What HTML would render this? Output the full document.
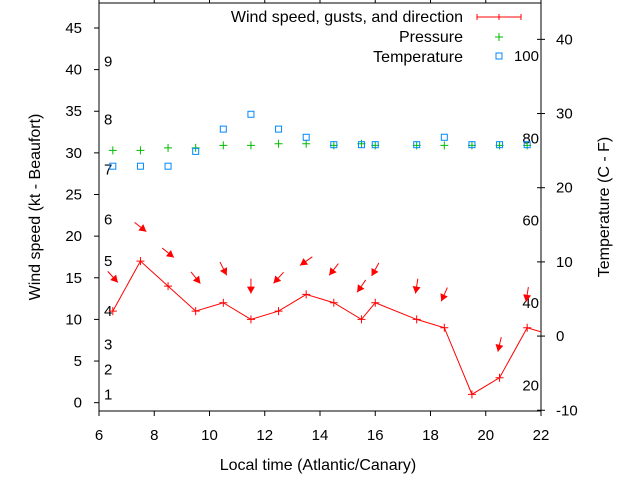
<!DOCTYPE html>
<html><head><meta charset="utf-8"><style>
html,body{margin:0;padding:0;background:#fff;}
svg{display:block;font-family:"Liberation Sans",sans-serif;}
</style></head><body>
<svg id="c" width="640" height="480" viewBox="0 0 640 480"></svg>
<script>
const hours=[6.5,7.5,8.5,9.5,10.5,11.5,12.5,13.5,14.5,15.5,16,17.5,18.5,19.5,20.5,21.5,22.5];
const windSpeed=[11,17,14,11,12,10,11,13,12,10,12,10,9,1,3,9,8];
const gustHours=[6.5,7.5,8.5,9.5,10.5,11.5,12.5,13.5,14.5,15.5,16,17.5,18.5,20.5,21.5];
const gustSpeed=[15.1,21.1,18,15,16.1,14,15,17,16,14,16,14,13,7,13];
const windDir=[318,308,309,321,333,0,42,55,38,35,29,9,24,13,9];
const pressHours=[6.5,7.5,8.5,9.5,10.5,11.5,12.5,13.5,14.5,15.5,16,17.5,18.5,19.5,20.5,21.5];
const pressure=[30.3,30.3,30.6,30.6,30.9,30.9,31.1,31.1,30.9,31.1,30.9,30.9,30.9,30.9,30.9,30.9];
const tempHours=[6.5,7.5,8.5,9.5,10.5,11.5,12.5,13.5,14.5,15.5,16,17.5,18.5,19.5,20.5,21.5];
const tempC=[22.9,22.9,22.9,24.9,27.9,29.9,27.9,26.8,25.8,25.8,25.8,25.8,26.8,25.8,25.8,25.8];
const xTicks=[6,8,10,12,14,16,18,20,22];
const yTicks=[0,5,10,15,20,25,30,35,40,45];
const y2Ticks=[-10,0,10,20,30,40];
const fTicks=[20,40,60,80,100];
const beaufort=[1,2,3,4,5,6,7,8,9];
const beaufortKt=[1,4,7,11,17,22,28,34,41];

const L=99,R=541,T=3,B=411;
const X=v=>L+(v-6)/(22-6)*(R-L);
const Y=v=>B-(v+1)/(49)*(B-T);
const Y2=v=>B-(v+10.1)/(55)*(B-T);
const svg=document.getElementById('c');
const NS='http://www.w3.org/2000/svg';
function mk(tag,attrs,parent){const e=document.createElementNS(NS,tag);for(const k in attrs)e.setAttribute(k,attrs[k]);(parent||svg).appendChild(e);return e;}
function txt(s,x,y,anchor,parent,fs){const t=mk('text',{x:x,y:y,'font-size':fs||15,fill:'#000','text-anchor':anchor||'middle'},parent);t.textContent=s;return t;}

const defs=mk('defs',{});const cp=mk('clipPath',{id:'clip'},defs);mk('rect',{x:L,y:T,width:R-L,height:B-T},cp);

const frame=mk('rect',{x:L,y:T,width:R-L,height:B-T,fill:'none',stroke:'#000','stroke-width':1});


const gx=mk('g',{});
xTicks.forEach(v=>{mk('line',{x1:X(v),x2:X(v),y1:B,y2:B+5,stroke:'#000'},gx);mk('line',{x1:X(v),x2:X(v),y1:T,y2:T-4,stroke:'#000'},gx);
 const t=txt(String(v),X(v),440,'middle',gx);});
const gy=mk('g',{});
yTicks.forEach(v=>{mk('line',{x1:L-5,x2:L,y1:Y(v),y2:Y(v),stroke:'#000'},gy);
 const t=txt(String(v),82,Y(v)+5,'end',gy);});
const gy2=mk('g',{});
y2Ticks.forEach(v=>{mk('line',{x1:R-4,x2:R+4,y1:Y2(v),y2:Y2(v),stroke:'#000'},gy2);
 const t=txt(String(v),556,Y2(v)+5,'start',gy2);});
fTicks.forEach(v=>{const c=(v-32)*5/9;const t=txt(String(v),539,Y2(c)+5,'end',gy2);});
beaufort.forEach((b,i)=>{const t=txt(String(b),104,Y(beaufortKt[i])+5,'start',gy);});

let t=txt('Local time (Atlantic/Canary)',318,470,'middle',null,16);
t=txt('Wind speed (kt - Beaufort)',0,0,'middle',null,16);t.setAttribute('transform','translate(40,207) rotate(-90)');
t=txt('Temperature (C - F)',0,0,'middle',null,16);t.setAttribute('transform','translate(609,207) rotate(-90)');

const plot=mk('g',{'clip-path':'url(#clip)'});
const wl=mk('polyline',{points:hours.map((h,i)=>X(h)+','+Y(windSpeed[i])).join(' '),fill:'none',stroke:'#f00','stroke-width':1},plot);

function plus(x,y,c,g,name){const p=mk('path',{d:`M${x-4},${y}H${x+4}M${x},${y-4}V${y+4}`,stroke:c,'stroke-width':1,fill:'none'},g);}
hours.forEach((h,i)=>plus(X(h),Y(windSpeed[i]),'#f00',plot,'wind-point'));
gustHours.forEach((h,i)=>{const d=windDir[i]*Math.PI/180;const dx=-Math.sin(d),dy=Math.cos(d);const cx=X(h),cy=Y(gustSpeed[i]),len=7.5;
 const x1=cx-dx*len,y1=cy-dy*len,x2=cx+dx*len,y2=cy+dy*len;const g=mk('g',{},plot);
 
 mk('line',{x1:x1,y1:y1,x2:x2,y2:y2,stroke:'#f00','stroke-width':1},g);
 const px=-dy,py=dx,hl=7,hw=4;
 mk('polygon',{points:`${x2},${y2} ${x2-dx*hl+px*hw},${y2-dy*hl+py*hw} ${x2-dx*hl-px*hw},${y2-dy*hl-py*hw}`,fill:'#f00'},g);});
pressHours.forEach((h,i)=>plus(X(h),Y(pressure[i]),'#0b0',plot,'pressure-point'));
tempHours.forEach((h,i)=>{const r=mk('rect',{x:X(h)-3,y:Y2(tempC[i])-3,width:6,height:6,fill:'none',stroke:'#08f','stroke-width':1},plot);});

const lg=mk('g',{});
t=txt('Wind speed, gusts, and direction',463,22,'end',lg,16);
mk('path',{d:'M477,17H521M477,14V20M499,14V20M521,14V20',stroke:'#f00',fill:'none'},lg);
t=txt('Pressure',463,42,'end',lg,16);
plus(499,37,'#0b0',lg,'legend-pressure-marker');
t=txt('Temperature',463,62,'end',lg,16);
mk('rect',{x:496,y:53,width:6,height:6,fill:'none',stroke:'#08f'},lg);
</script>
</body></html>
